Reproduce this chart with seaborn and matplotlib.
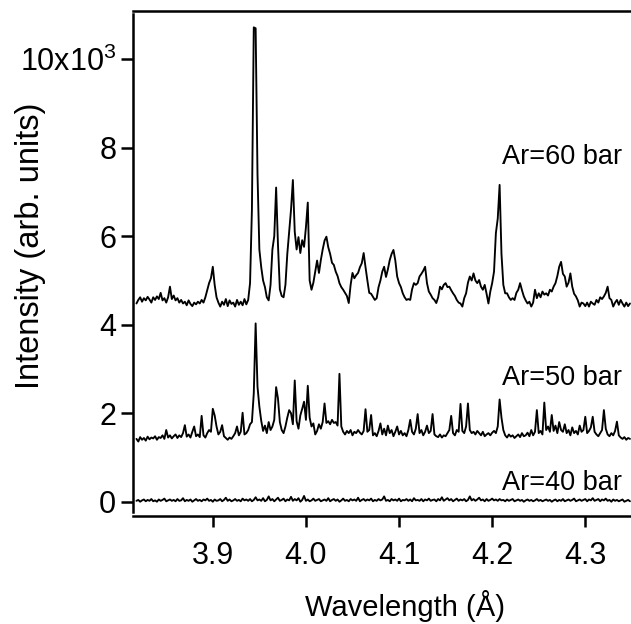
import numpy as np
import pandas as pd
import matplotlib
matplotlib.use("Agg")
import matplotlib.pyplot as plt
import seaborn as sns

# ---- data (intensity in units of 10^3, sampled every 0.002 A from 3.818 A) ----
wl_start = 3.818
wl_step = 0.002

ar60 = [4.48,4.56,4.62,4.52,4.60,4.55,4.63,4.57,4.50,4.62,
        4.56,4.64,4.58,4.72,4.55,4.60,4.50,4.62,4.86,4.58,
        4.66,4.55,4.60,4.50,4.56,4.48,4.52,4.44,4.55,4.47,
        4.42,4.50,4.46,4.52,4.48,4.56,4.50,4.62,4.78,4.94,
        5.05,5.31,4.90,4.62,4.50,4.41,4.52,4.45,4.58,4.42,
        4.55,4.47,4.50,4.41,4.56,4.45,4.52,4.44,4.58,4.46,
        4.56,4.94,6.60,10.72,10.70,7.40,5.70,5.30,5.00,4.85,
        4.62,4.55,4.90,5.70,6.00,7.10,5.80,4.80,4.65,4.62,
        4.90,5.60,6.10,6.60,7.27,6.10,5.70,5.98,5.62,5.91,
        5.76,6.20,6.76,5.00,4.79,4.95,5.20,5.45,5.17,5.46,
        5.70,5.90,5.99,5.75,5.60,5.40,5.35,5.20,5.10,4.94,
        4.85,4.79,4.72,4.65,4.49,4.90,5.17,5.05,5.12,5.17,
        5.30,5.39,5.62,5.30,5.00,4.72,4.70,4.63,4.56,4.60,
        4.85,5.00,5.20,5.31,5.08,5.25,5.46,5.60,5.69,5.45,
        5.09,4.94,4.85,4.71,4.62,4.56,4.58,4.56,4.80,4.94,
        4.90,4.94,5.09,5.15,5.22,5.31,4.94,4.75,4.68,4.60,
        4.56,4.49,4.62,4.86,4.80,4.90,4.94,4.85,4.86,4.78,
        4.71,4.65,4.56,4.50,4.48,4.41,4.60,4.71,4.95,5.09,
        5.00,5.16,5.00,4.94,5.01,4.86,4.79,4.90,4.70,4.48,
        4.75,4.94,5.20,6.07,6.40,7.16,5.60,4.90,4.71,4.71,
        4.62,4.56,4.60,4.56,4.72,4.79,4.94,4.78,4.64,4.55,
        4.48,4.52,4.41,4.50,4.79,4.60,4.71,4.62,4.75,4.68,
        4.71,4.66,4.79,4.75,4.86,4.94,5.10,5.31,5.42,5.15,
        5.09,4.86,4.95,5.16,4.86,4.70,4.64,4.55,4.41,4.50,
        4.48,4.42,4.50,4.41,4.52,4.48,4.45,4.56,4.50,4.62,
        4.58,4.64,4.72,4.86,4.60,4.56,4.41,4.50,4.56,4.45,
        4.56,4.48,4.41,4.50,4.42,4.48]

ar50 = [1.42,1.36,1.46,1.40,1.44,1.38,1.47,1.41,1.45,1.43,
        1.48,1.40,1.46,1.44,1.50,1.42,1.62,1.45,1.50,1.43,
        1.48,1.52,1.44,1.50,1.46,1.55,1.73,1.47,1.52,1.45,
        1.58,1.70,1.48,1.52,1.46,1.94,1.50,1.45,1.55,1.62,
        1.58,2.10,1.95,1.70,1.52,1.58,1.73,1.48,1.44,1.40,
        1.45,1.42,1.48,1.55,1.70,1.50,1.58,2.01,1.52,1.55,
        1.62,1.75,1.80,2.45,4.03,2.60,2.15,1.83,1.60,1.72,
        1.55,1.80,1.62,1.70,1.85,2.59,2.33,1.80,1.62,1.55,
        1.70,1.90,2.07,2.00,1.75,2.74,1.82,1.65,1.95,2.10,
        2.26,1.85,2.62,1.90,1.70,1.77,1.52,1.60,1.75,1.65,
        1.80,2.22,1.78,1.82,1.75,1.85,1.78,1.80,1.72,2.89,
        1.70,1.58,1.52,1.60,1.55,1.62,1.50,1.58,1.55,1.62,
        1.56,1.52,1.60,2.09,1.58,1.62,1.96,1.50,1.55,1.48,
        1.60,1.77,1.52,1.65,1.50,1.72,1.55,1.62,1.48,1.58,
        1.70,1.52,1.60,1.50,1.55,1.48,1.62,1.85,1.58,1.52,
        1.65,1.98,1.55,1.62,1.50,1.58,1.72,1.55,1.60,1.98,
        1.52,1.48,1.46,1.52,1.45,1.50,1.48,1.55,1.62,1.94,
        1.55,1.50,1.62,1.58,2.21,1.60,1.55,1.70,2.22,1.62,
        1.55,1.58,1.52,1.60,1.55,1.50,1.58,1.48,1.52,1.55,
        1.50,1.56,1.60,1.55,1.70,2.31,1.90,1.62,1.50,1.45,
        1.52,1.47,1.50,1.44,1.48,1.52,1.46,1.55,1.48,1.50,
        1.56,1.48,1.62,1.50,1.58,2.07,1.55,1.60,1.52,2.24,
        1.62,1.70,1.58,1.96,1.60,1.72,1.55,1.80,1.62,1.58,
        1.75,1.55,1.62,1.50,1.68,1.55,1.60,1.52,1.72,1.58,
        1.62,1.92,1.55,1.60,1.68,1.92,1.58,1.52,1.48,1.55,
        1.62,2.07,1.65,1.52,1.48,1.55,1.50,1.60,1.81,1.50,
        1.45,1.42,1.46,1.40,1.44,1.42]

ar40 = [0.02,0.04,0.00,0.03,0.05,0.01,0.04,0.02,0.06,0.01,
        0.03,0.00,0.05,0.02,0.04,0.07,0.01,0.03,0.05,0.02,
        0.04,0.01,0.06,0.02,0.03,0.08,0.01,0.04,0.02,0.05,
        0.00,0.03,0.06,0.02,0.04,0.01,0.05,0.03,0.07,0.02,
        0.04,0.00,0.05,0.02,0.03,0.06,0.01,0.04,0.09,0.02,
        0.05,0.01,0.03,0.06,0.02,0.04,0.01,0.07,0.03,0.05,
        0.02,0.06,0.01,0.04,0.10,0.03,0.05,0.02,0.08,0.01,
        0.04,0.12,0.03,0.06,0.01,0.05,0.09,0.02,0.04,0.07,
        0.01,0.05,0.03,0.11,0.02,0.06,0.03,0.08,0.00,0.04,
        0.13,0.02,0.05,0.01,0.03,0.07,0.02,0.04,0.06,0.01,
        0.03,0.05,0.02,0.08,0.01,0.04,0.06,0.02,0.05,0.00,
        0.03,0.07,0.02,0.04,0.01,0.06,0.03,0.05,0.02,0.09,
        0.01,0.04,0.06,0.02,0.05,0.03,0.07,0.01,0.04,0.02,
        0.06,0.03,0.05,0.12,0.02,0.04,0.01,0.06,0.03,0.05,
        0.02,0.07,0.01,0.04,0.03,0.06,0.02,0.05,0.01,0.08,
        0.03,0.04,0.02,0.06,0.01,0.05,0.03,0.07,0.02,0.04,
        0.05,0.01,0.06,0.03,0.10,0.02,0.05,0.08,0.03,0.06,
        0.01,0.04,0.07,0.02,0.05,0.03,0.06,0.01,0.04,0.12,
        0.03,0.06,0.02,0.05,0.09,0.03,0.05,0.01,0.06,0.02,
        0.04,0.07,0.03,0.05,0.02,0.06,0.03,0.04,0.01,0.05,
        0.02,0.04,0.06,0.01,0.03,0.05,0.02,0.04,0.00,0.03,
        0.05,0.02,0.04,0.01,0.03,0.06,0.02,0.04,0.01,0.03,
        0.05,0.02,0.04,0.00,0.03,0.05,0.01,0.04,0.02,0.06,
        0.01,0.03,0.05,0.02,0.04,0.07,0.01,0.03,0.05,0.02,
        0.04,0.06,0.01,0.05,0.03,0.08,0.02,0.04,0.06,0.01,
        0.05,0.03,0.07,0.02,0.04,0.00,0.05,0.02,0.04,0.01,
        0.03,0.05,0.00,0.02,0.04,0.01]

labels = ["Ar=60 bar", "Ar=50 bar", "Ar=40 bar"]
label_y = [7.63, 2.64, 0.26]
yticks = [0, 2, 4, 6, 8, 10]
ytick_labels = ["0", "2", "4", "6", "8", r"10x10$^{\mathregular{3}}$"]
xticks = [3.9, 4.0, 4.1, 4.2, 4.3]
xtick_labels = ["3.9", "4.0", "4.1", "4.2", "4.3"]

n = len(ar60)
wl = np.round(wl_start + wl_step * np.arange(n), 4)
frames = []
for name, vals in zip(labels, [ar60, ar50, ar40]):
    frames.append(pd.DataFrame({"wl": wl[:len(vals)], "I": vals, "set": name}))
df = pd.concat(frames, ignore_index=True)

sns.set_theme(style="ticks")
plt.rcParams["font.family"] = ["Liberation Sans", "DejaVu Sans"]
plt.rcParams["mathtext.fontset"] = "custom"
plt.rcParams["mathtext.rm"] = "Liberation Sans"

fig = plt.figure(figsize=(6.31, 6.24), dpi=100)
ax = fig.add_axes([133 / 631, 108 / 624, 498 / 631, 505 / 624])

sns.lineplot(data=df, x="wl", y="I", units="set", estimator=None, sort=False,
             color="black", linewidth=1.35, ax=ax, legend=False)

ax.set_xlim(3.8143, 4.3491)
ax.set_ylim(-0.323, 11.09)

ax.spines["right"].set_visible(False)
for s in ["left", "bottom", "top"]:
    ax.spines[s].set_linewidth(1.8)
    ax.spines[s].set_color("black")
ax.spines["left"].set_bounds(-0.23, 11.02)

ax.set_yticks(yticks)
ax.set_yticklabels(ytick_labels)
ax.set_xticks(xticks)
ax.set_xticklabels(xtick_labels)
ax.tick_params(axis="y", direction="out", length=9, width=1.8, pad=3,
               labelsize=22, colors="black")
ax.tick_params(axis="x", direction="out", length=8, width=1.8, pad=10,
               labelsize=22, colors="black")

for txt, yv in zip(labels, label_y):
    ax.text(4.2105, yv, txt, ha="left", va="baseline", fontsize=19.5, color="black")

ax.set_xlabel("Wavelength (Å)", fontsize=21, color="black")
ax.set_ylabel("Intensity (arb. units)", fontsize=23.5, color="black")
ax.xaxis.set_label_coords(0.546, -0.178)
ax.xaxis.label.set_va("center")
ax.yaxis.set_label_coords(-0.205, 0.535)
ax.yaxis.label.set_va("center")

fig.savefig("out.png", dpi=100)
